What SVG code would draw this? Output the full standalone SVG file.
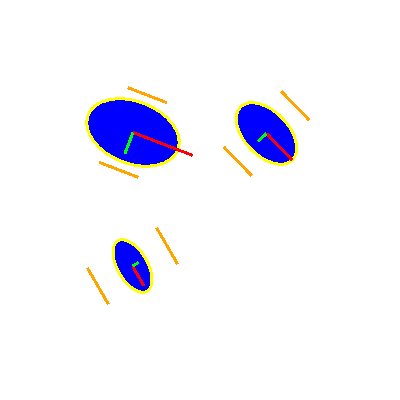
<svg xmlns="http://www.w3.org/2000/svg" width="400" height="400" viewBox="0 0 400 400">
<style>
.e{fill:#0000ff;stroke:#ffff00;stroke-width:3}
.o{stroke:#ffa500;stroke-width:3}
.r{stroke:#ff0000;stroke-width:3}
.g{stroke:#00ff00;stroke-width:3}
g{shape-rendering:crispEdges}
</style>
<rect width="400" height="400" fill="#fff"/>
<g id="ellipse1" transform="translate(133,132.5) rotate(21)">
<ellipse class="e" rx="48" ry="31"/>
<line class="o" x1="-21" y1="-40" x2="21" y2="-40"/>
<line class="o" x1="-21" y1="40" x2="21" y2="40"/>
<line class="r" x1="0" y1="0" x2="64" y2="0"/>
<line class="g" x1="0" y1="0" x2="0" y2="23"/>
</g>
<g id="ellipse2" transform="translate(266.5,133.5) rotate(46)">
<ellipse class="e" rx="37" ry="22"/>
<line class="o" x1="-20" y1="-40" x2="20" y2="-40"/>
<line class="o" x1="-20" y1="40" x2="20" y2="40"/>
<line class="r" x1="0" y1="0" x2="37" y2="0"/>
<line class="g" x1="0" y1="0" x2="0" y2="12"/>
</g>
<g id="ellipse3" transform="translate(132.5,266) rotate(60)">
<ellipse class="e" rx="29" ry="15"/>
<line class="o" x1="-21" y1="-40" x2="21" y2="-40"/>
<line class="o" x1="-21" y1="40" x2="21" y2="40"/>
<line class="r" x1="0" y1="0" x2="23" y2="0"/>
<line class="g" x1="0" y1="0" x2="0" y2="-7"/>
</g>
</svg>
